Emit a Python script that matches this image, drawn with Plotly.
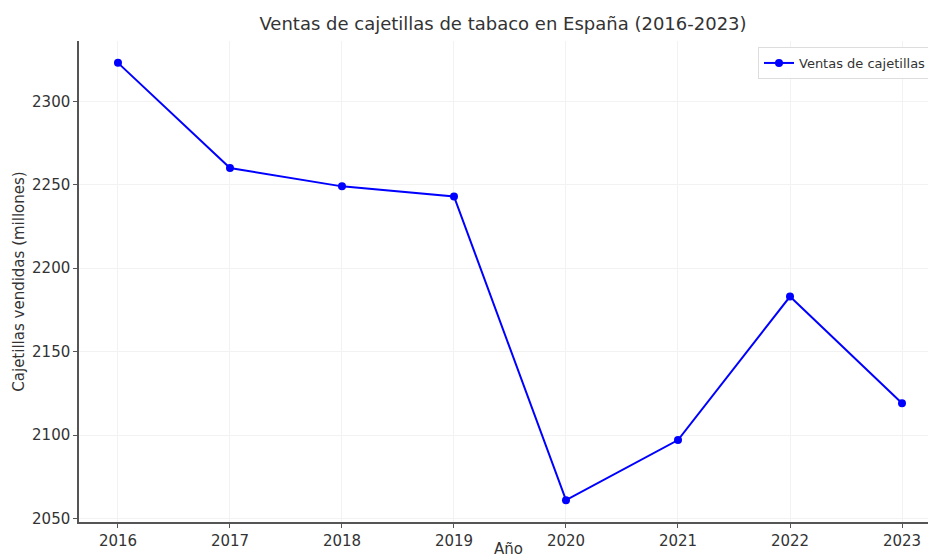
import plotly.graph_objects as go

years = [2016, 2017, 2018, 2019, 2020, 2021, 2022, 2023]
ventas = [2323, 2260, 2249, 2243, 2061, 2097, 2183, 2119]
y_ticks = [2050, 2100, 2150, 2200, 2250, 2300]

fig = go.Figure()
fig.add_trace(go.Scatter(
    x=years, y=ventas, mode="lines+markers", name="Ventas de cajetillas",
    line=dict(color="#0000ff", width=2),
    marker=dict(color="#0000ff", size=8),
))

axis_font = dict(family="DejaVu Sans", size=15, color="#333333")
fig.update_layout(
    width=928, height=560,
    paper_bgcolor="white", plot_bgcolor="white",
    margin=dict(l=79, r=0, t=41, b=38, autoexpand=False),
    title=dict(text="Ventas de cajetillas de tabaco en España (2016-2023)",
               x=503/928, xref="container", xanchor="center",
               y=1-24/560, yref="container", yanchor="middle",
               font=dict(family="DejaVu Sans", size=18, color="#333333")),
    font=dict(family="DejaVu Sans", color="#333333"),
    legend=dict(x=(758-79)/849, xanchor="left", y=1-(47-41)/481, yanchor="top",
                bgcolor="rgba(255,255,255,0.9)", bordercolor="#dddddd", borderwidth=1,
                font=dict(family="DejaVu Sans", size=13, color="#333333"),
                itemwidth=30),
    showlegend=True,
    annotations=[dict(text="Año", xref="paper", yref="paper",
                      x=(508-79)/849, y=-(559-522)/481, xanchor="center", yanchor="bottom",
                      showarrow=False, font=axis_font, borderpad=0)],
)
fig.update_xaxes(
    range=[2015.652, 2016 + (928-118)/112.0],
    tickvals=years, ticktext=[str(y) for y in years],
    showline=True, linecolor="#555555", linewidth=1.5,
    ticks="outside", ticklen=4, tickcolor="#555555",
    showgrid=True, gridcolor="#f2f2f2", gridwidth=1,
    zeroline=False, tickfont=axis_font, automargin=False,
)
fig.update_yaxes(
    range=[2047.9, 2336.1],
    tickvals=y_ticks,
    showline=True, linecolor="#555555", linewidth=1.5,
    ticks="outside", ticklen=4, tickcolor="#555555",
    showgrid=True, gridcolor="#f2f2f2", gridwidth=1,
    zeroline=False, tickfont=axis_font, automargin=False,
    title=dict(text="Cajetillas vendidas (millones)", font=axis_font, standoff=4),
)
fig.write_html("out.html", config={"displayModeBar": False},
               post_script="document.body.style.margin='0';document.body.style.overflow='hidden';")
